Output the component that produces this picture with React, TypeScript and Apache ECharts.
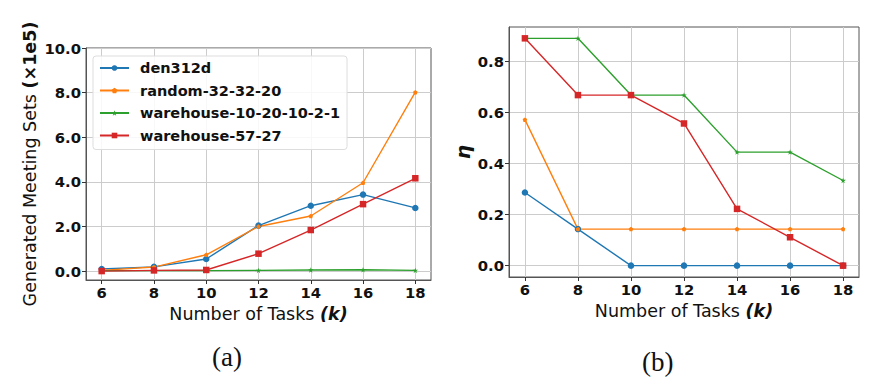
import React, { useEffect, useRef } from "react";
import * as echarts from "echarts";

const tasks = [6, 8, 10, 12, 14, 16, 18];
const seriesNames = ["den312d", "random-32-32-20", "warehouse-10-20-10-2-1", "warehouse-57-27"];
const colors = ["#1f77b4", "#ff7f0e", "#2ca02c", "#d62728"];

// (a) generated meeting sets, x1e5
const setsDen = [0.09, 0.19, 0.54, 2.04, 2.93, 3.43, 2.83];
const setsRandom = [0.03, 0.18, 0.73, 2.0, 2.47, 3.96, 8.02];
const setsWarehouseA = [0.02, 0.02, 0.02, 0.03, 0.05, 0.06, 0.03];
const setsWarehouseB = [0.0, 0.03, 0.05, 0.78, 1.84, 3.0, 4.16];

// (b) eta
const etaDen = [0.286, 0.143, 0, 0, 0, 0, 0];
const etaRandom = [0.571, 0.143, 0.143, 0.143, 0.143, 0.143, 0.143];
const etaWarehouseA = [0.889, 0.889, 0.667, 0.667, 0.444, 0.444, 0.333];
const etaWarehouseB = [0.889, 0.667, 0.667, 0.556, 0.222, 0.111, 0.0];

const xTicks = [6, 8, 10, 12, 14, 16, 18];
const yTicksA = [0, 2, 4, 6, 8, 10];
const yTicksB = [0, 0.2, 0.4, 0.6, 0.8];

const pentagon = "path://M0,-1L0.951,-0.309L0.588,0.809L-0.588,0.809L-0.951,-0.309Z";
const star =
  "path://M0,-1L0.225,-0.309L0.951,-0.309L0.363,0.118L0.588,0.809L0,0.382L-0.588,0.809L-0.363,0.118L-0.951,-0.309L-0.225,-0.309Z";
const symbols = ["circle", pentagon, star, "rect"];
const symbolSizes = [6.5, 4.5, 5.5, 6.5];

const FONT = "DejaVu Sans";

export default function App() {
  const ref = useRef<HTMLDivElement>(null);
  useEffect(() => {
    if (!ref.current) return;
    const chart = echarts.init(ref.current, undefined, { renderer: "svg" });
    const setsData = [setsDen, setsRandom, setsWarehouseA, setsWarehouseB];
    const etaData = [etaDen, etaRandom, etaWarehouseA, etaWarehouseB];

    const mkX = (gridIndex: number, gap: number) => ({
      type: "value",
      gridIndex,
      min: 5.4,
      max: 18.6,
      axisLine: { show: true, onZero: false, lineStyle: { color: "#555", width: 1 } },
      axisTick: { show: true, length: 4, customValues: xTicks, lineStyle: { color: "#333" } },
      axisLabel: {
        customValues: xTicks,
        margin: 5,
        fontFamily: FONT,
        fontWeight: "bold",
        fontSize: 14.8,
        color: "#111",
      },
      splitLine: { show: true, lineStyle: { color: "#cccccc", width: 1 } },
      name: "{r|Number of Tasks }{b|(k)}",
      nameLocation: "middle",
      nameGap: gap,
      nameTextStyle: {
        rich: {
          r: { fontFamily: FONT, fontSize: 17.5, color: "#111" },
          b: { fontFamily: FONT, fontSize: 17.5, fontWeight: "bold", fontStyle: "italic", color: "#111" },
        },
      },
    });

    const option: any = {
      animation: false,
      backgroundColor: "#fff",
      grid: [
        { left: 86, top: 48, width: 345, height: 232, show: true, borderColor: "#555", borderWidth: 1 },
        { left: 509, top: 27, width: 350, height: 250, show: true, borderColor: "#555", borderWidth: 1 },
      ],
      xAxis: [mkX(0, 20), mkX(1, 21)],
      yAxis: [
        {
          type: "value",
          gridIndex: 0,
          min: -0.4,
          max: 10,
          axisLine: { show: true, onZero: false, lineStyle: { color: "#555" } },
          axisTick: { show: true, length: 4, customValues: yTicksA, lineStyle: { color: "#333" } },
          axisLabel: {
            customValues: yTicksA,
            formatter: (v: number) => v.toFixed(1),
            margin: 5,
            fontFamily: FONT,
            fontWeight: "bold",
            fontSize: 14.8,
            color: "#111",
          },
          splitLine: { show: true, lineStyle: { color: "#cccccc", width: 1 } },
          name: "{r|Generated Meeting Sets }{b|(\u00d71e5)}",
          nameLocation: "middle",
          nameRotate: 90,
          nameGap: 47,
          nameTextStyle: {
            rich: {
              r: { fontFamily: FONT, fontSize: 17.5, color: "#111" },
              b: { fontFamily: FONT, fontSize: 17.5, fontWeight: "bold", color: "#111" },
            },
          },
        },
        {
          type: "value",
          gridIndex: 1,
          min: -0.0444,
          max: 0.9333,
          axisLine: { show: true, onZero: false, lineStyle: { color: "#555" } },
          axisTick: { show: true, length: 4, customValues: yTicksB, lineStyle: { color: "#333" } },
          axisLabel: {
            customValues: yTicksB,
            formatter: (v: number) => v.toFixed(1),
            margin: 5,
            fontFamily: FONT,
            fontWeight: "bold",
            fontSize: 14.8,
            color: "#111",
          },
          splitLine: { show: true, lineStyle: { color: "#cccccc", width: 1 } },
          name: "\u03b7",
          nameLocation: "middle",
          nameRotate: 90,
          nameGap: 36,
          nameTextStyle: {
            fontFamily: FONT,
            fontSize: 20,
            fontWeight: "bold",
            fontStyle: "italic",
            color: "#111",
          },
        },
      ],
      legend: {
        data: seriesNames,
        orient: "vertical",
        left: 93,
        top: 56,
        padding: [4, 7, 6, 6],
        itemWidth: 29,
        itemHeight: 7,
        itemGap: 6.5,
        backgroundColor: "rgba(255,255,255,0.85)",
        borderColor: "#dddddd",
        borderWidth: 1,
        borderRadius: 3,
        textStyle: {
          fontFamily: FONT,
          fontWeight: "bold",
          fontSize: 14.5,
          color: "#111",
          lineHeight: 16,
          padding: [0, 0, 0, 6],
        },
      },
      graphic: [
        {
          type: "text",
          left: 212,
          top: 343,
          style: { text: "(a)", font: "27px 'Liberation Serif', serif", fill: "#111" },
        },
        {
          type: "text",
          left: 642,
          top: 348,
          style: { text: "(b)", font: "27px 'Liberation Serif', serif", fill: "#111" },
        },
      ],
      series: [] as any[],
    };

    seriesNames.forEach((name, i) => {
      option.series.push({
        type: "line",
        name,
        xAxisIndex: 0,
        yAxisIndex: 0,
        data: tasks.map((t, j) => [t, setsData[i][j]]),
        symbol: symbols[i],
        symbolSize: symbolSizes[i],
        showSymbol: true,
        itemStyle: { color: colors[i] },
        lineStyle: { color: colors[i], width: 1.4 },
      });
    });
    seriesNames.forEach((name, i) => {
      option.series.push({
        type: "line",
        name,
        xAxisIndex: 1,
        yAxisIndex: 1,
        data: tasks.map((t, j) => [t, etaData[i][j]]),
        symbol: symbols[i],
        symbolSize: symbolSizes[i],
        showSymbol: true,
        itemStyle: { color: colors[i] },
        lineStyle: { color: colors[i], width: 1.4 },
      });
    });

    chart.setOption(option);
    return () => chart.dispose();
  }, []);

  return (
    <div
      ref={ref}
      style={{ position: "fixed", left: 0, top: 0, width: 890, height: 386, background: "#fff" }}
    />
  );
}
